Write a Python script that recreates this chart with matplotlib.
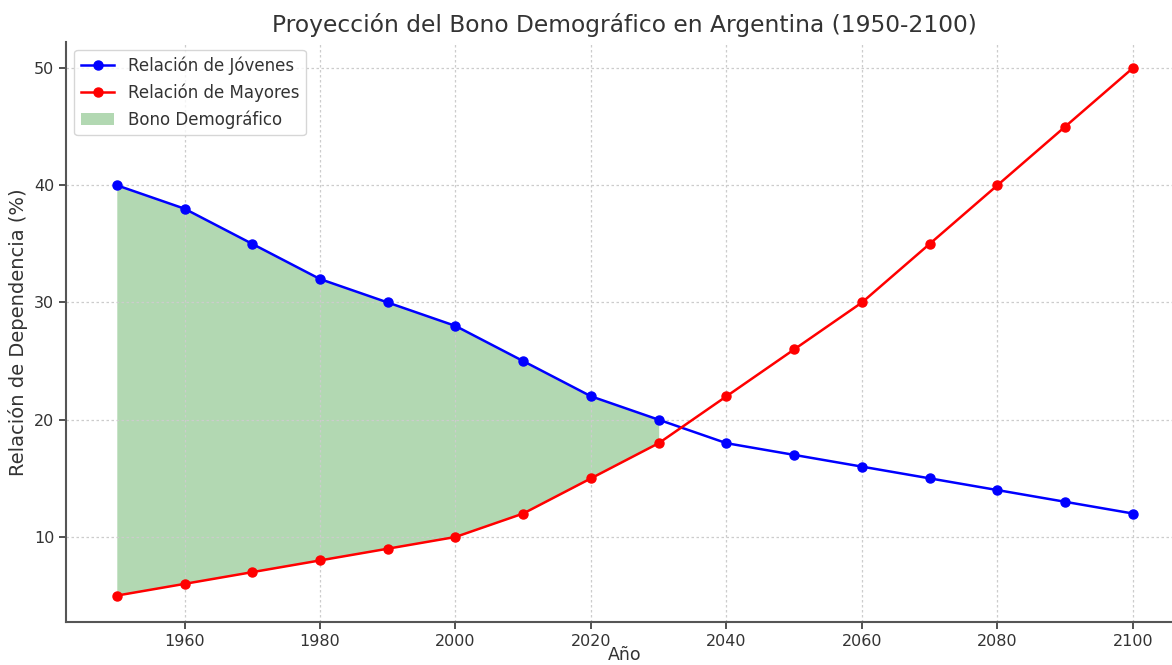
import numpy as np
import matplotlib.pyplot as plt

anios = [1950, 1960, 1970, 1980, 1990, 2000, 2010, 2020, 2030, 2040, 2050, 2060, 2070, 2080, 2090, 2100]
jovenes = [40, 38, 35, 32, 30, 28, 25, 22, 20, 18, 17, 16, 15, 14, 13, 12]
mayores = [5, 6, 7, 8, 9, 10, 12, 15, 18, 22, 26, 30, 35, 40, 45, 50]

plt.rcParams['font.family'] = 'DejaVu Sans'
plt.rcParams['text.color'] = '#333333'
plt.rcParams['axes.labelcolor'] = '#333333'
plt.rcParams['xtick.color'] = '#333333'
plt.rcParams['ytick.color'] = '#333333'

fig = plt.figure(figsize=(11.72, 6.65), dpi=100)
ax = fig.add_axes([0.0563, 0.0647, 0.9537, 0.8727])

ax.plot(anios, jovenes, 'o-', color='blue', linewidth=1.8, markersize=6.5, label='Relación de Jóvenes')
ax.plot(anios, mayores, 'o-', color='red', linewidth=1.8, markersize=6.5, label='Relación de Mayores')

j = np.array(jovenes)
m = np.array(mayores)
ax.fill_between(anios, j, m, where=j > m, color='green', alpha=0.3, linewidth=0, label='Bono Demográfico')

ax.set_title('Proyección del Bono Demográfico en Argentina (1950-2100)', fontsize=16.8, pad=7)
ax.set_xlabel('Año', fontsize=12.5, labelpad=-2)
ax.set_ylabel('Relación de Dependencia (%)', fontsize=14)
ax.tick_params(labelsize=11.5, width=1.2, length=5)
ax.set_yticks([10, 20, 30, 40, 50])
ax.grid(True, linestyle=(0, (2, 2)), color='#cccccc', linewidth=0.9)
for s in ['top', 'right']:
    ax.spines[s].set_visible(False)
for s in ['left', 'bottom']:
    ax.spines[s].set_linewidth(1.5)
    ax.spines[s].set_color('#555555')
ax.legend(loc='upper left', fontsize=12)

plt.savefig('out.png', dpi=100)
